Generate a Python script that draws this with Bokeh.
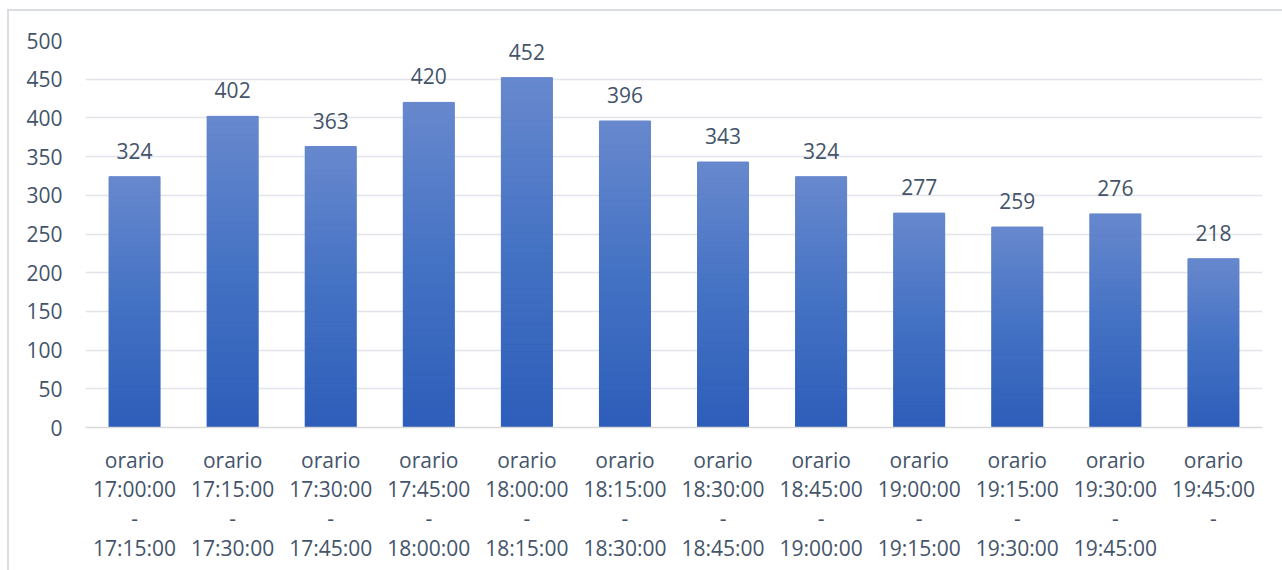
import numpy as np
from bokeh.plotting import figure
from bokeh.models import FactorRange, Range1d, FixedTicker
from bokeh.embed import file_html
from bokeh.resources import INLINE
from bokeh.core.properties import value

# ---- data ----
starts = ["17:00:00", "17:15:00", "17:30:00", "17:45:00", "18:00:00", "18:15:00",
          "18:30:00", "18:45:00", "19:00:00", "19:15:00", "19:30:00", "19:45:00"]
ends = ["17:15:00", "17:30:00", "17:45:00", "18:00:00", "18:15:00", "18:30:00",
        "18:45:00", "19:00:00", "19:15:00", "19:30:00", "19:45:00", ""]
counts = [324, 402, 363, 420, 452, 396, 343, 324, 277, 259, 276, 218]
y_ticks = [0, 50, 100, 150, 200, 250, 300, 350, 400, 450, 500]

categories = []
for s, e in zip(starts, ends):
    lab = "orario\n" + s + "\n-"
    if e:
        lab += "\n" + e
    categories.append(lab)

FONT = "Open Sans"
FS = "21px"
TXT = "#44546a"

p = figure(output_backend="svg", toolbar_location=None,
           x_range=FactorRange(*categories, range_padding=0),
           y_range=Range1d(0, 500),
           frame_width=1177, frame_height=387,
           min_border_left=76, min_border_right=20, min_border_top=29, min_border_bottom=143)
p.styles = {"margin-left": "9px", "margin-top": "11px", "outline": "2px solid #dadde2"}
p.outline_line_color = None
p.background_fill_color = "white"
p.border_fill_color = "white"

# base solid bars
p.vbar(x=categories, top=counts, width=0.52, fill_color="#4472c4", line_color=None)

# gradient overlay: stacked slices of each bar
N = 50
top_c = np.array([104, 137, 206])
mid_c = np.array([68, 114, 196])
bot_c = np.array([46, 94, 186])
xs, bs, ts, cs = [], [], [], []
for cat, v in zip(categories, counts):
    for i in range(N):
        f = (i + 0.5) / N  # 0 bottom -> 1 top
        if f < 0.5:
            c = bot_c + (mid_c - bot_c) * (f / 0.5)
        else:
            c = mid_c + (top_c - mid_c) * ((f - 0.5) / 0.5)
        c = c.astype(int)
        xs.append(cat)
        bs.append(v * i / N)
        ts.append(v * (i + 1) / N)
        cs.append("#%02x%02x%02x" % tuple(c))
p.vbar(x=xs, bottom=bs, top=ts, width=0.52, fill_color=cs, line_color=cs, line_width=1)

# value labels
p.text(x=categories, y=counts, text=[str(c) for c in counts],
       text_align="center", text_baseline="alphabetic", y_offset=-26,
       text_font=value(FONT), text_font_size=FS, text_color=TXT)

# axes
p.yaxis.ticker = FixedTicker(ticks=y_ticks)
p.yaxis.axis_line_color = None
p.yaxis.major_tick_line_color = None
p.yaxis.minor_tick_line_color = None
p.yaxis.major_label_standoff = 17
p.yaxis.major_label_text_font = FONT
p.yaxis.major_label_text_font_size = FS
p.yaxis.major_label_text_color = TXT

p.xaxis.axis_line_color = "#d9d9d9"
p.xaxis.axis_line_width = 1.5
p.xaxis.major_tick_line_color = None
p.xaxis.major_label_standoff = 12
p.xaxis.major_label_text_font = FONT
p.xaxis.major_label_text_font_size = FS
p.xaxis.major_label_text_color = TXT
p.xaxis.major_label_text_line_height = 1.05
p.xaxis.major_label_orientation = "horizontal"

p.xgrid.grid_line_color = None
p.ygrid.grid_line_color = "#e1e4e9"
p.ygrid.grid_line_width = 1.5

open("out.html", "w").write(file_html(p, INLINE))
